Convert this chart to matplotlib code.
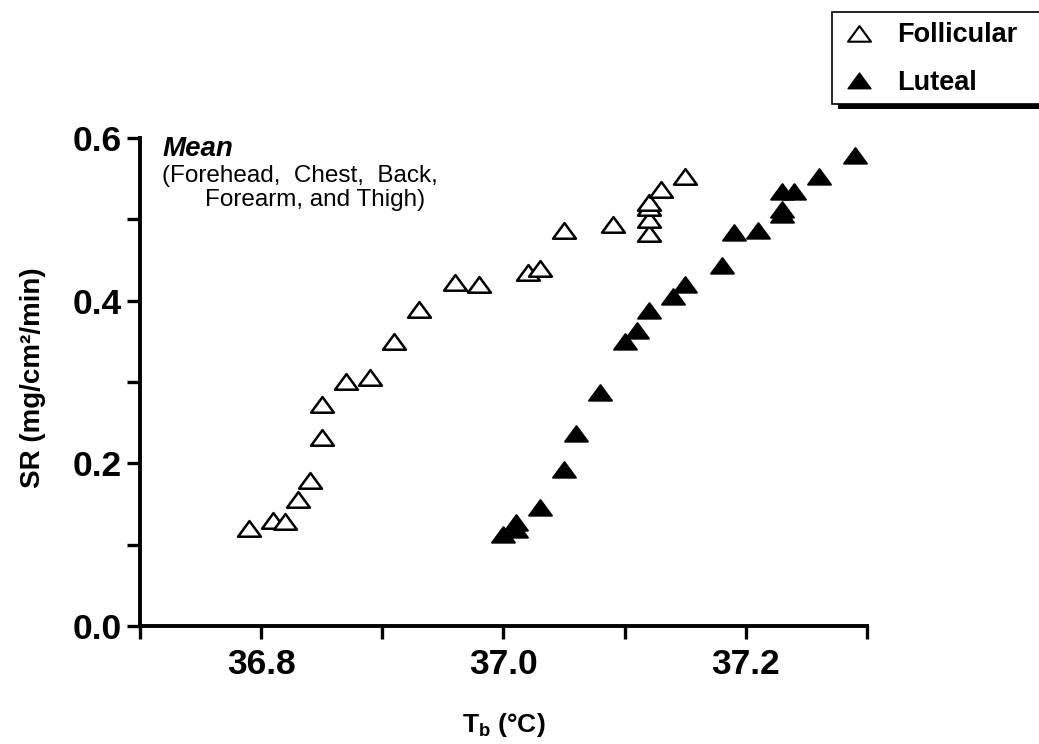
import matplotlib
matplotlib.use("Agg")
import matplotlib.pyplot as plt
from matplotlib.path import Path
from matplotlib.patches import Rectangle

plt.rcParams["font.family"] = ["Liberation Sans", "DejaVu Sans"]
plt.rcParams["mathtext.fontset"] = "custom"
plt.rcParams["mathtext.rm"] = "Liberation Sans"
plt.rcParams["mathtext.bf"] = "Liberation Sans:bold"

# Follicular phase (open triangles): body temperature vs sweat rate
foll_tb = [36.79, 36.81, 36.82, 36.83, 36.84, 36.85, 36.85, 36.87, 36.89, 36.91,
           36.93, 36.96, 36.98, 37.02, 37.03, 37.05, 37.09, 37.12, 37.12, 37.12,
           37.12, 37.13, 37.15]
foll_sr = [0.117, 0.127, 0.125, 0.153, 0.176, 0.229, 0.269, 0.297, 0.302, 0.347,
           0.386, 0.419, 0.417, 0.432, 0.436, 0.483, 0.490, 0.480, 0.497, 0.512,
           0.518, 0.533, 0.550]

# Luteal phase (filled triangles)
lut_tb = [37.00, 37.01, 37.01, 37.03, 37.05, 37.06, 37.08, 37.10, 37.11, 37.12,
          37.14, 37.15, 37.18, 37.19, 37.21, 37.23, 37.23, 37.23, 37.24, 37.26,
          37.29]
lut_sr = [0.109, 0.124, 0.115, 0.143, 0.189, 0.233, 0.284, 0.347, 0.360, 0.385,
          0.402, 0.417, 0.440, 0.481, 0.483, 0.503, 0.509, 0.531, 0.531, 0.549,
          0.576]

series_names = ["Follicular", "Luteal"]
x_ticks = [36.8, 37.0, 37.2]
x_minor = [36.7, 36.9, 37.1, 37.3]
y_ticks = [0.0, 0.2, 0.4, 0.6]
y_minor = [0.1, 0.3, 0.5]

W, H = 1039, 744
fig = plt.figure(figsize=(W / 100, H / 100), dpi=100)

# axes box in pixels: x 140..867, y 138..626
ax = fig.add_axes([140 / W, 1 - 626 / H, 727 / W, 488 / H])

# slightly flattened triangle, like the original
tri = Path([(-11, -5), (11, -5), (0, 10), (-11, -5)], closed=True)
ms = 16.5

ax.plot(foll_tb, foll_sr, linestyle="none", marker=tri, markersize=ms,
        markerfacecolor="white", markeredgecolor="black", markeredgewidth=1.8,
        clip_on=False)
ax.plot(lut_tb, lut_sr, linestyle="none", marker=tri, markersize=ms,
        markerfacecolor="black", markeredgecolor="black", markeredgewidth=1.4,
        clip_on=False)

ax.set_xlim(36.7, 37.3)
ax.set_ylim(0.0, 0.6)
ax.set_xticks(x_ticks)
ax.set_xticklabels([f"{v:.1f}" for v in x_ticks])
ax.set_xticks(x_minor, minor=True)
ax.set_yticks(y_ticks)
ax.set_yticklabels([f"{v:.1f}" for v in y_ticks])
ax.set_yticks(y_minor, minor=True)

for side in ["top", "right"]:
    ax.spines[side].set_visible(False)
for side in ["left", "bottom"]:
    ax.spines[side].set_linewidth(2.8)
    ax.spines[side].set_capstyle("projecting")

ax.tick_params(which="both", direction="out", length=9.5, width=2.4, color="black")
ax.tick_params(axis="x", which="major", pad=6, labelsize=25.5)
ax.tick_params(axis="y", which="major", pad=3.5, labelsize=25.5)
for lab in ax.get_xticklabels() + ax.get_yticklabels():
    lab.set_fontweight("bold")

ax.set_xlabel(r"$\mathbf{T_b}$ (°C)", fontsize=19, fontweight="bold")
ax.set_ylabel("SR (mg/cm²/min)", fontsize=20, fontweight="bold")
ax.xaxis.set_label_coords(0.5, (626 - 725) / 488)
ax.xaxis.label.set_va("center")
ax.yaxis.set_label_coords((33 - 140) / 727, (626 - 378) / 488)
ax.yaxis.label.set_va("center")

# annotation in top-left corner
ax.text((163 - 140) / 727, (626 - 149) / 488, "Mean", transform=ax.transAxes,
        fontsize=20, fontweight="bold", fontstyle="italic", ha="left", va="center")
ax.text((162 - 140) / 727, (626 - 176) / 488, "(Forehead,  Chest,  Back,",
        transform=ax.transAxes, fontsize=17.5, ha="left", va="center")
ax.text((425 - 140) / 727, (626 - 200) / 488, "Forearm, and Thigh)",
        transform=ax.transAxes, fontsize=17.5, ha="right", va="center")

# legend box drawn in figure pixel space (top right, runs off the edge)
lg = fig.add_axes([0, 0, 1, 1], facecolor="none")
lg.set_xlim(0, W)
lg.set_ylim(H, 0)
lg.axis("off")
lg.add_patch(Rectangle((838, 104), 205, 5, facecolor="black", edgecolor="none"))
lg.add_patch(Rectangle((832, 12), 210, 92, facecolor="white", edgecolor="black",
                       linewidth=1.2))
lg.plot([859], [36], linestyle="none", marker=tri, markersize=ms,
        markerfacecolor="white", markeredgecolor="black", markeredgewidth=1.5)
lg.plot([859], [83], linestyle="none", marker=tri, markersize=ms,
        markerfacecolor="black", markeredgecolor="black")
lg.text(897, 35, series_names[0], fontsize=19.5, fontweight="bold", ha="left", va="center")
lg.text(897, 83, series_names[1], fontsize=19.5, fontweight="bold", ha="left", va="center")

fig.savefig("out.png", dpi=100)
